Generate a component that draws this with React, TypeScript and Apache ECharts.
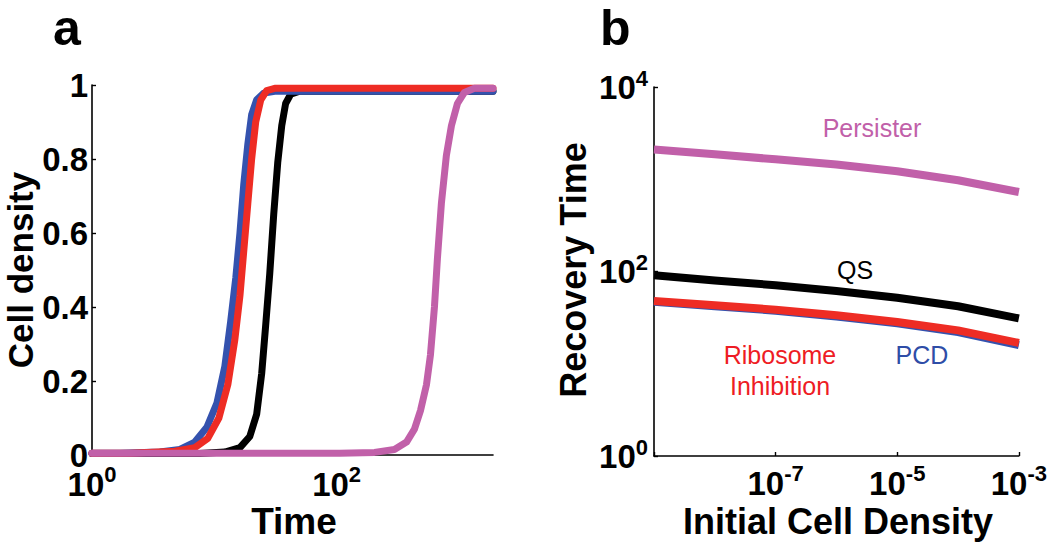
import React, { useEffect, useRef } from "react";
import * as echarts from "echarts";

// ---------- Panel a: growth curves (Time vs Cell density) ----------
const qsTime = [1, 7.6, 12.2, 16.2, 19.5, 22.2, 24.4, 26.3, 28.4, 30.6, 33.0, 35.6, 38.3, 42.1, 49.9, 1900];
const qsDensity = [0.004, 0.004, 0.008, 0.02, 0.05, 0.11, 0.22, 0.35, 0.49, 0.65, 0.79, 0.89, 0.95, 0.975, 0.983, 0.983];

const pcdTime = [1, 1.69, 3.59, 5.23, 6.93, 8.69, 10.5, 12.2, 13.6, 15.0, 16.2, 17.4, 18.8, 20.2, 22.2, 25.4, 31.2, 1900];
const pcdDensity = [0.005, 0.005, 0.008, 0.015, 0.035, 0.075, 0.14, 0.24, 0.36, 0.48, 0.6, 0.73, 0.84, 0.92, 0.96, 0.978, 0.983, 0.983];

const riboTime = [1, 2.04, 4.76, 6.93, 8.85, 10.9, 12.9, 14.7, 16.2, 17.4, 18.8, 20.2, 21.8, 24.0, 26.8, 31.2, 1900];
const riboDensity = [0.005, 0.005, 0.01, 0.02, 0.045, 0.1, 0.19, 0.31, 0.43, 0.55, 0.68, 0.8, 0.9, 0.96, 0.985, 0.991, 0.991];

const persTime = [1, 106, 204, 297, 373, 433, 485, 543, 585, 631, 667, 719, 790, 869, 973, 1109, 1339, 1900];
const persDensity = [0.005, 0.005, 0.007, 0.015, 0.035, 0.07, 0.12, 0.19, 0.27, 0.4, 0.53, 0.68, 0.81, 0.89, 0.95, 0.98, 0.991, 0.991];

// ---------- Panel b: recovery time vs initial cell density ----------
const initialDensity = [1e-9, 1e-8, 1e-7, 1e-6, 1e-5, 1e-4, 1e-3];
const persisterRecovery = [2096, 1864, 1644, 1442, 1220, 975, 728];
const qsRecovery = [91, 80, 71, 61.5, 52, 42, 31];
const riboRecovery = [48, 43, 38.6, 33.5, 28.4, 23, 16.8];
const pcdRecovery = [47, 42, 37.6, 32.6, 27.5, 22.1, 15.9];

const PINK = "#C160A9";
const RED = "#EE2C24";
const BLUE = "#3452AE";
const BLACK = "#000000";
const FONT = "'Liberation Sans', Arial, Helvetica, sans-serif";

const zip = (xs: number[], ys: number[]) => xs.map((x, i) => [x, ys[i]]);

// superscript labels for x axes (label box hangs below the axis)
const richX = {
  b: { fontSize: 33, fontWeight: "bold", fontFamily: FONT, color: "#000", lineHeight: 38, verticalAlign: "bottom" },
  s: { fontSize: 22, fontWeight: "bold", fontFamily: FONT, color: "#000", lineHeight: 22, verticalAlign: "top" },
};
// superscript labels for y axes (base centred on the tick)
const richY = {
  b: { fontSize: 33, fontWeight: "bold", fontFamily: FONT, color: "#000", lineHeight: 40, verticalAlign: "middle" },
  s: { fontSize: 22, fontWeight: "bold", fontFamily: FONT, color: "#000", lineHeight: 22, verticalAlign: "top" },
};

const powLabel = (hide: number[]) => (v: number) => {
  const e = Math.log10(v);
  const r = Math.round(e);
  if (Math.abs(e - r) > 1e-6) return "";
  if (hide.includes(r)) return "";
  return `{b|10}{s|${r}}`;
};

const axisLineStyle = { show: true, lineStyle: { color: "#000", width: 1.6 } };
const tickStyle = { show: true, inside: true, length: 4, lineStyle: { color: "#000", width: 1.4 } };

export default function App() {
  const ref = useRef<HTMLDivElement>(null);
  useEffect(() => {
    if (!ref.current) return;
    const chart = echarts.init(ref.current, null, { renderer: "svg" });
    const lineA = (name: string, data: number[][], color: string) => ({
      name,
      type: "line",
      xAxisIndex: 0,
      yAxisIndex: 0,
      data,
      showSymbol: false,
      symbol: "none",
      clip: false,
      lineStyle: { color, width: 7, join: "round", cap: "round" },
      itemStyle: { color },
    });
    const lineB = (name: string, data: number[][], color: string) => ({
      name,
      type: "line",
      xAxisIndex: 1,
      yAxisIndex: 1,
      data,
      showSymbol: false,
      symbol: "none",
      clip: false,
      lineStyle: { color, width: 8, join: "round" },
      itemStyle: { color },
    });
    const option: any = {
      animation: false,
      backgroundColor: "#fff",
      grid: [
        { left: 92, top: 85, width: 401, height: 370 },
        { left: 654, top: 87, width: 369, height: 369 },
      ],
      xAxis: [
        {
          gridIndex: 0,
          type: "log",
          logBase: 10,
          min: 1,
          max: 1900,
          interval: 2,
          axisLine: axisLineStyle,
          axisTick: { show: false },
          splitLine: { show: false },
          minorTick: { show: false },
          axisLabel: { margin: 8, formatter: powLabel([]), rich: richX },
        },
        {
          gridIndex: 1,
          type: "log",
          logBase: 10,
          min: 1e-9,
          max: 1e-3,
          interval: 2,
          axisLine: axisLineStyle,
          axisTick: tickStyle,
          splitLine: { show: false },
          minorTick: { show: false },
          axisLabel: { margin: 6, formatter: powLabel([-9]), rich: richX },
        },
      ],
      yAxis: [
        {
          gridIndex: 0,
          type: "value",
          min: 0,
          max: 1,
          interval: 0.2,
          axisLine: axisLineStyle,
          axisTick: tickStyle,
          splitLine: { show: false },
          axisLabel: {
            margin: 4,
            fontSize: 33,
            fontWeight: "bold",
            fontFamily: FONT,
            color: "#000",
            formatter: (v: number) => (v === 0 || v === 1 ? String(v) : v.toFixed(1)),
          },
        },
        {
          gridIndex: 1,
          type: "log",
          logBase: 10,
          min: 1,
          max: 1e4,
          interval: 2,
          axisLine: axisLineStyle,
          axisTick: tickStyle,
          splitLine: { show: false },
          minorTick: { show: false },
          axisLabel: { margin: 6, formatter: powLabel([]), rich: richY },
        },
      ],
      series: [
        lineA("QS", zip(qsTime, qsDensity), BLACK),
        lineA("PCD", zip(pcdTime, pcdDensity), BLUE),
        lineA("Ribosome Inhibition", zip(riboTime, riboDensity), RED),
        lineA("Persister", zip(persTime, persDensity), PINK),
        lineB("Persister", zip(initialDensity, persisterRecovery), PINK),
        lineB("QS", zip(initialDensity, qsRecovery), BLACK),
        lineB("PCD", zip(initialDensity, pcdRecovery), BLUE),
        lineB("Ribosome Inhibition", zip(initialDensity, riboRecovery), RED),
      ],
      graphic: [
        { type: "text", x: 53, y: 28, style: { text: "a", font: `bold 50px ${FONT}`, fill: "#000", align: "left", verticalAlign: "middle" } },
        { type: "text", x: 600, y: 28, style: { text: "b", font: `bold 50px ${FONT}`, fill: "#000", align: "left", verticalAlign: "middle" } },
        { type: "text", x: 20, y: 270, rotation: Math.PI / 2, style: { text: "Cell density", font: `bold 35px ${FONT}`, fill: "#000", align: "center", verticalAlign: "middle" } },
        { type: "text", x: 294, y: 521, style: { text: "Time", font: `bold 37px ${FONT}`, fill: "#000", align: "center", verticalAlign: "middle" } },
        { type: "text", x: 573, y: 270, rotation: Math.PI / 2, style: { text: "Recovery Time", font: `bold 36px ${FONT}`, fill: "#000", align: "center", verticalAlign: "middle" } },
        { type: "text", x: 838, y: 521, style: { text: "Initial Cell Density", font: `bold 36px ${FONT}`, fill: "#000", align: "center", verticalAlign: "middle" } },
        { type: "text", x: 872, y: 128, style: { text: "Persister", font: `25px ${FONT}`, fill: PINK, align: "center", verticalAlign: "middle" } },
        { type: "text", x: 855, y: 270, style: { text: "QS", font: `25px ${FONT}`, fill: BLACK, align: "center", verticalAlign: "middle" } },
        { type: "text", x: 780, y: 355, style: { text: "Ribosome", font: `25px ${FONT}`, fill: "#EE1C24", align: "center", verticalAlign: "middle" } },
        { type: "text", x: 780, y: 386, style: { text: "Inhibition", font: `25px ${FONT}`, fill: "#EE1C24", align: "center", verticalAlign: "middle" } },
        { type: "text", x: 922, y: 355, style: { text: "PCD", font: `25px ${FONT}`, fill: "#2E4DA7", align: "center", verticalAlign: "middle" } },
      ],
    };
    chart.setOption(option);
    return () => chart.dispose();
  }, []);
  return <div ref={ref} style={{ position: "fixed", left: 0, top: 0, width: 1050, height: 544, background: "#fff" }} />;
}
